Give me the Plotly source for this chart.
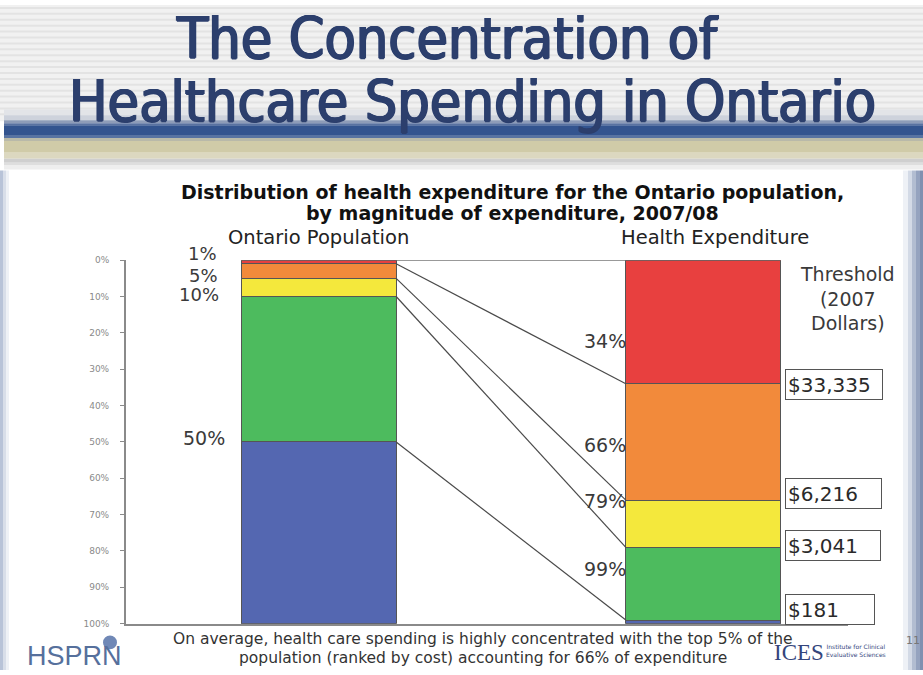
import plotly.graph_objects as go

W, H = 923, 675

# ---------------- data ----------------
groups = ["Ontario Population", "Health Expenditure"]
segment_names = ["Top 1%", "Next 4%", "Next 5%", "Next 40%", "Bottom 50%"]
population_share = [1, 4, 5, 40, 50]      # % of population per segment
expenditure_share = [34, 32, 13, 20, 1]   # % of expenditure per segment
segment_colors = ["#e8403f", "#f28a3b", "#f4e83c", "#4dbb5e", "#5467b1"]
left_labels = ["1%", "5%", "10%", "50%"]
right_labels = ["34%", "66%", "79%", "99%"]
thresholds = ["$33,335", "$6,216", "$3,041", "$181"]
tick_vals = list(range(0, 101, 10))
tick_text = [f"{v}%" for v in tick_vals]
slide_title = ["The Concentration of", "Healthcare Spending in Ontario"]
chart_title = ["Distribution of health expenditure for the Ontario population,",
               "by magnitude of expenditure, 2007/08"]
footnote = ["On average, health care spending is highly concentrated with the top 5% of the",
            "population (ranked by cost) accounting for 66% of expenditure"]

SANS = "DejaVu Sans"
COND = "DejaVu Sans Condensed, DejaVu Sans"
TITLE_C = "#2c3f6d"


def X(px):
    return px / W


def Y(py):
    return 1 - py / H


fig = go.Figure()

BAR_W = 0.403
for name, p, e, c in zip(segment_names, population_share, expenditure_share, segment_colors):
    fig.add_trace(go.Bar(
        x=[0, 1], y=[p, e], name=name, width=BAR_W,
        marker=dict(color=c, line=dict(color="#555555", width=1)),
        showlegend=False, hoverinfo="skip"))

# cumulative boundaries
cum_p, cum_e = [0], [0]
for p, e in zip(population_share, expenditure_share):
    cum_p.append(cum_p[-1] + p)
    cum_e.append(cum_e[-1] + e)

# connector lines (boundary k of population -> boundary k of expenditure)
for k in range(0, 5):
    fig.add_trace(go.Scatter(
        x=[BAR_W / 2, 1 - BAR_W / 2], y=[cum_p[k], cum_e[k]],
        mode="lines", line=dict(color="#4a4a4a", width=1.2),
        showlegend=False, hoverinfo="skip"))

fig.update_layout(
    width=W, height=H, margin=dict(l=0, r=0, t=0, b=0),
    paper_bgcolor="white", plot_bgcolor="rgba(0,0,0,0)",
    barmode="stack",
    xaxis=dict(domain=[X(126), X(848)], range=[-0.5007, 1.376],
               showgrid=False, zeroline=False, showticklabels=False,
               showline=True, linecolor="#8a8a8a", linewidth=2, ticks=""),
    yaxis=dict(domain=[Y(628), Y(259)], range=[100, 0],
               showgrid=False, zeroline=False, tickvals=tick_vals, ticktext=tick_text,
               ticks="outside", ticklen=4, tickcolor="#8a8a8a", ticklabelstandoff=9,
               tickfont=dict(size=9, color="#8a8a8a", family=SANS),
               showline=True, linecolor="#8a8a8a", linewidth=2),
    font=dict(family=SANS),
)

shapes = []
# -------- banner background with stripes --------
shapes.append(dict(type="rect", xref="paper", yref="paper", x0=0, x1=1, y0=Y(118), y1=1,
                   fillcolor="#f1f1f1", line=dict(width=0), layer="below"))
for py in range(3, 112, 6):
    shapes.append(dict(type="line", xref="paper", yref="paper", x0=0, x1=1, y0=Y(py), y1=Y(py),
                       line=dict(color="#e3e3e3", width=2), layer="below"))
bands = [(106, 112, "#e2e4e8"), (112, 117, "#cdd2dc"), (117, 120, "#8e9cb8"), (120, 122, "#5a72a0"),
         (122, 132, "#33548f"), (132, 135, "#5873a2"), (135, 138, "#b9b9a9"),
         (138, 150, "#d0cba8"), (150, 156, "#dcd8c0"), (156, 160, "#cfcfcf"),
         (160, 163, "#dedede"), (163, 167, "#eeeeee")]
for y0, y1, c in bands:
    shapes.append(dict(type="rect", xref="paper", yref="paper", x0=X(4), x1=1,
                       y0=Y(y1), y1=Y(y0), fillcolor=c, line=dict(width=0), layer="below"))
# side edge shading
edge = [(903, 908, "#eef1f6"), (908, 912, "#d3dae6"), (912, 916, "#b2bdd1"), (916, 920, "#95a3bf"),
        (920, 923, "#8090b0")]
for x0, x1, c in edge:
    shapes.append(dict(type="rect", xref="paper", yref="paper", x0=X(x0), x1=X(x1),
                       y0=0, y1=Y(168), fillcolor=c, line=dict(width=0), layer="below"))
ledge = [(0, 3, "#b8c3d8"), (3, 6, "#d8dee9"), (6, 9, "#eef1f6")]
for x0, x1, c in ledge:
    shapes.append(dict(type="rect", xref="paper", yref="paper", x0=X(x0), x1=X(x1),
                       y0=0, y1=Y(168), fillcolor=c, line=dict(width=0), layer="below"))
# HSPRN sphere
shapes.append(dict(type="circle", xref="paper", yref="paper", x0=X(103), x1=X(117), y0=Y(654), y1=Y(640),
                   fillcolor="#7088b6", line=dict(width=0)))
fig.update_layout(shapes=shapes)

ann = []
# slide title (regular condensed face, thickened slightly with a same-colour text shadow)
thick = f"1px 0 0 {TITLE_C}, -1px 0 0 {TITLE_C}, 0 1px 0 {TITLE_C}, 0 -0.5px 0 {TITLE_C}"
for txt, px, py in zip(slide_title, [447, 472], [34, 97]):
    ann.append(dict(xref="paper", yref="paper", x=X(px), y=Y(py), text=txt,
                    showarrow=False, xanchor="center", yanchor="middle",
                    font=dict(family=COND, size=57, color=TITLE_C, weight="normal", shadow=thick)))
# chart title (two lines)
for txt, py in zip(chart_title, [190, 211]):
    ann.append(dict(xref="paper", yref="paper", x=X(512), y=Y(py), text=txt,
                    showarrow=False, xanchor="center", yanchor="middle",
                    font=dict(size=19, color="#111111", weight="bold")))
# group headers
ann.append(dict(xref="x", yref="paper", x=0, y=Y(236), text=groups[0], showarrow=False,
                xanchor="center", yanchor="middle", font=dict(size=19.5, color="#222222")))
ann.append(dict(xref="x", yref="paper", x=1.03, y=Y(236), text=groups[1], showarrow=False,
                xanchor="center", yanchor="middle", font=dict(size=19.5, color="#222222")))
# left cumulative labels
left_shift = [10, 3, 2, 4]
left_x = [219, 220, 221, 227]
for k, (lab, sh, lx) in enumerate(zip(left_labels, left_shift, left_x)):
    ann.append(dict(xref="paper", yref="y", x=X(lx), y=cum_p[k + 1], text=lab, showarrow=False,
                    xanchor="right", yanchor="middle", yshift=sh,
                    font=dict(size=18 if k < 3 else 19, color="#3a3a3a")))
# right cumulative labels
right_pos = [341, 447, 503, 572]
for lab, py in zip(right_labels, right_pos):
    ann.append(dict(xref="paper", yref="paper", x=X(628), y=Y(py), text=lab, showarrow=False,
                    xanchor="right", yanchor="middle", font=dict(size=19, color="#3a3a3a")))
# threshold header
ann.append(dict(xref="paper", yref="paper", x=X(847), y=Y(298),
                text="Threshold<br>(2007<br>Dollars)", showarrow=False,
                xanchor="center", yanchor="middle", font=dict(size=19, color="#3a3a3a")))
# threshold boxes
box_pos = [(385, 92), (496, 91), (549, 90), (614, 84)]
for txt, (py, wd) in zip(thresholds, box_pos):
    ann.append(dict(xref="paper", yref="paper", x=X(785), y=Y(py), text=txt, showarrow=False,
                    xanchor="left", yanchor="middle", align="left", width=wd, height=25,
                    bordercolor="#555555", borderwidth=1, borderpad=2, bgcolor="white",
                    font=dict(size=20, color="#2a2a2a")))
# footnote (two lines)
for txt, py in zip(footnote, [644, 663]):
    ann.append(dict(xref="paper", yref="paper", x=X(483), y=Y(py), text=txt,
                    showarrow=False, xanchor="center", yanchor="middle",
                    font=dict(size=15.5, color="#333333")))
# logos
ann.append(dict(xref="paper", yref="paper", x=X(25), y=Y(661), text="HSPRN", showarrow=False,
                xanchor="left", yanchor="middle",
                font=dict(family="Liberation Sans", size=27, color="#56709c")))
ann.append(dict(xref="paper", yref="paper", x=X(772), y=Y(657), text="ICES", showarrow=False,
                xanchor="left", yanchor="middle",
                font=dict(family="Liberation Serif", size=23, color="#34457c")))
ann.append(dict(xref="paper", yref="paper", x=X(824), y=Y(655),
                text="Institute for Clinical<br>Evaluative Sciences", showarrow=False,
                xanchor="left", yanchor="middle", font=dict(size=6, color="#34457c")))
ann.append(dict(xref="paper", yref="paper", x=1, xshift=-1, y=Y(645), text="11", showarrow=False,
                xanchor="right", yanchor="middle", font=dict(size=11, color="#777777")))
fig.update_layout(annotations=ann)

fig.write_html("out.html")
